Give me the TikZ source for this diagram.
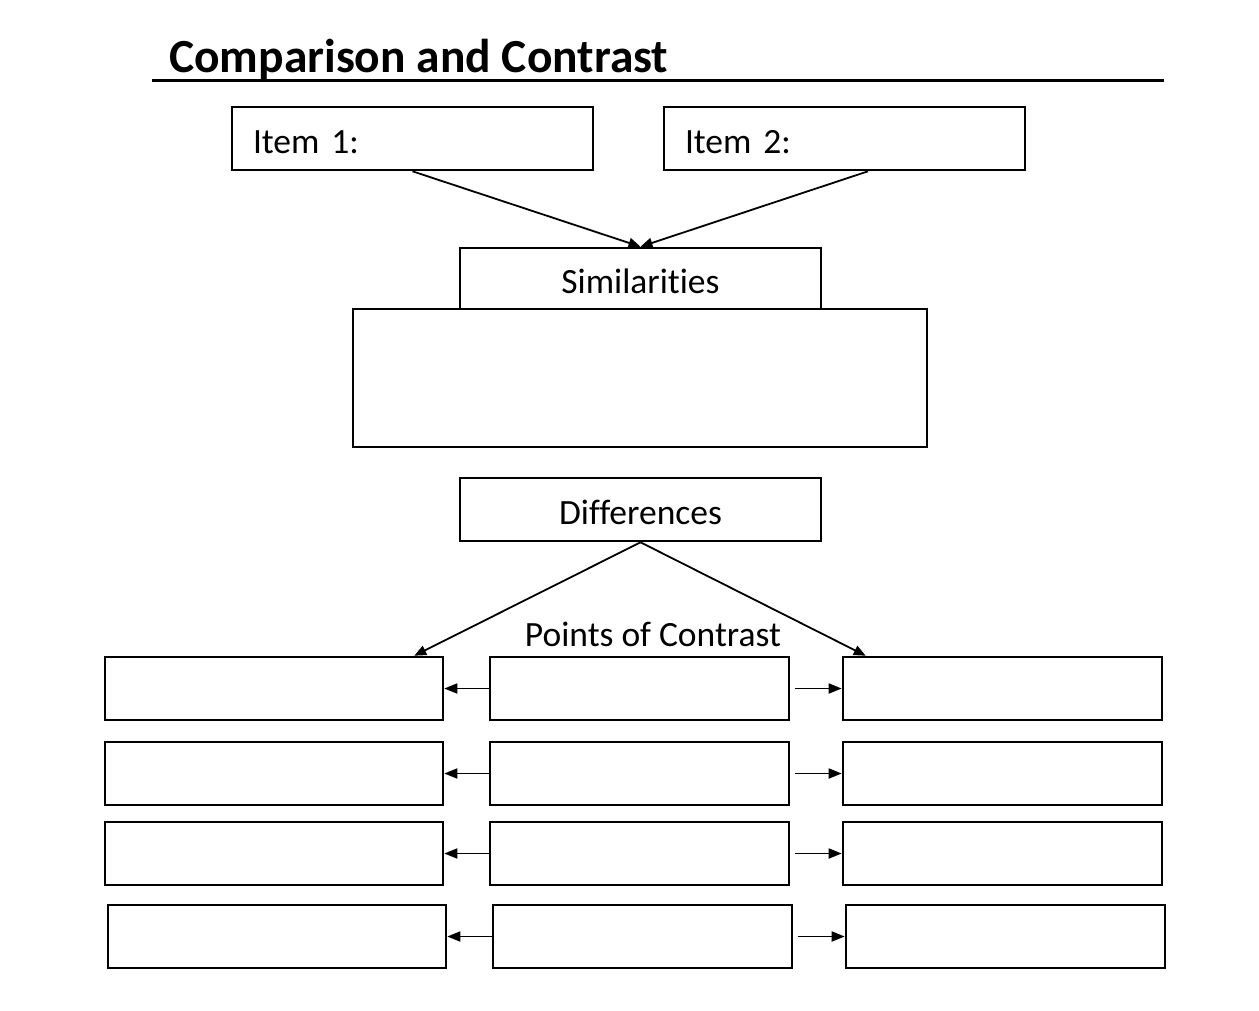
\documentclass[tikz,border=0pt]{standalone}
\usepackage{fontspec}
\setmainfont{Carlito}[Ligatures=NoCommon]
\usetikzlibrary{arrows.meta}
\begin{document}
\begin{tikzpicture}[x=1pt,y=-1pt,
  box/.style={draw=black,line width=2.6pt,inner sep=0pt,fill=white},
  lbl/.style={font=\fontsize{35.5}{40}\selectfont},
  boxlbl/.style={lbl,text height=29pt,text depth=0pt},
  conn/.style={line width=1.8pt,-{Triangle[length=12pt,width=10pt]}},
  rowarr/.style={line width=1.8pt,-{Triangle[length=13pt,width=10pt]}}]
\useasboundingbox[fill=white] (0,0) rectangle (1259,1010);
% title
\node[anchor=base west,inner sep=0pt,font=\fontsize{47.5}{52}\selectfont\bfseries] (title) at (169,72) {Comparison and Contrast};
\draw[line width=3pt] (152,80) -- (1164,80);
% items
\node[box,boxlbl,minimum width=361pt,minimum height=63pt,text width=319pt,align=left,inner xsep=21pt] (i1) at (412.5,138.5) {Item 1:};
\node[box,boxlbl,minimum width=361pt,minimum height=63pt,text width=319pt,align=left,inner xsep=21pt] (i2) at (844.5,138.5) {Item 2:};
% similarities
\node[box,minimum width=574pt,minimum height=138pt] (simbox) at (640,378) {};
\node[box,boxlbl,minimum width=361pt,minimum height=61pt] (sim) at (640.5,278.5) {Similarities};
\draw[conn] (i1.south) -- (sim.north);
\draw[conn] ([xshift=23.5pt]i2.south) -- (sim.north);
% differences
\node[box,boxlbl,minimum width=361pt,minimum height=63pt] (dif) at (640.5,509.5) {Differences};
\node[lbl,inner sep=0pt] (poc) at (653,634) {Points of Contrast};
% rows
\foreach \n/\y/\dx in {1/688.5/0,2/773.5/0,3/853.5/0,4/936.5/3}{
  \node[box,minimum width=338pt,minimum height=63pt] (L\n) at (274+\dx,\y) {};
  \node[box,minimum width=299pt,minimum height=63pt] (M\n) at (639.5+\dx,\y) {};
  \node[box,minimum width=319pt,minimum height=63pt] (R\n) at (1002.5+\dx,\y) {};
  \draw[rowarr] (M\n.west) -- (L\n.east);
  \draw[rowarr] ([xshift=5pt]M\n.east) -- (R\n.west);
}
\draw[conn] (dif.south) -- ([xshift=-30pt]L1.north east);
\draw[conn] (dif.south) -- ([xshift=24pt]R1.north west);
\end{tikzpicture}
\end{document}
